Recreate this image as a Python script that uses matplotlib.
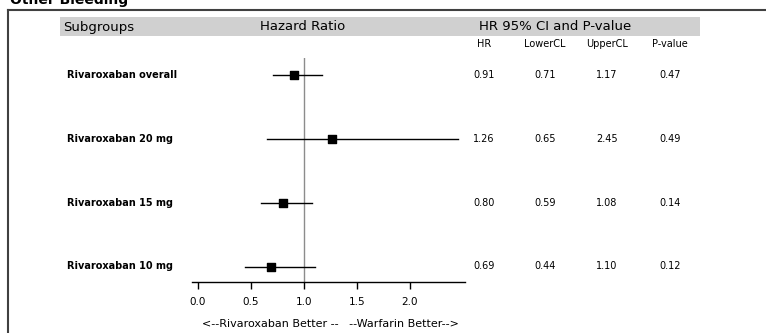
import matplotlib.pyplot as plt
from matplotlib.lines import Line2D
from matplotlib.patches import Rectangle

# subgroup results for other bleeding
subgroups = ['Rivaroxaban overall', 'Rivaroxaban 20 mg', 'Rivaroxaban 15 mg', 'Rivaroxaban 10 mg']
hr = [0.91, 1.26, 0.80, 0.69]
lower_cl = [0.71, 0.65, 0.59, 0.44]
upper_cl = [1.17, 2.45, 1.08, 1.10]
p_values = [0.47, 0.49, 0.14, 0.12]
x_ticks = [0.0, 0.5, 1.0, 1.5, 2.0]

W, H = 766, 333
fig = plt.figure(figsize=(W / 100, H / 100), dpi=100)
plt.rcParams['font.family'] = ['DejaVu Sans']


def fx(px):
    return px / W


def fy(py):
    return 1 - py / H


# forest plot axes, placed in pixel units
x0, x1 = -0.06, 2.52
top_px, bot_px = 58, 282
left_px = 198 + x0 * 106
right_px = 198 + x1 * 106
ax = fig.add_axes([fx(left_px), fy(bot_px), (right_px - left_px) / W, (bot_px - top_px) / H])
ax.set_xlim(x0, x1)
rows = list(range(len(subgroups)))
ax.set_ylim((bot_px - 75) / 64, -(75 - top_px) / 64)

ax.axvline(1.0, color='#8c8c8c', lw=1.0, zorder=1)
for i in rows:
    ax.plot([lower_cl[i], upper_cl[i]], [i, i], color='black', lw=1.0, zorder=2)
ax.scatter(hr, rows, marker='s', s=30, color='black', zorder=3)

for s in ['top', 'right', 'left']:
    ax.spines[s].set_visible(False)
ax.spines['bottom'].set_linewidth(1.0)
ax.set_yticks([])
ax.set_xticks(x_ticks)
ax.set_xticklabels([f'{t:.1f}' for t in x_ticks], fontsize=7.5)
ax.tick_params(axis='x', direction='out', length=5, width=1.0, pad=6)
ax.patch.set_alpha(0)

# frame around the panel
fig.add_artist(Line2D([fx(8), fx(8)], [fy(10), 0], color='#404040', lw=1.5))
fig.add_artist(Line2D([fx(8), 1], [fy(10), fy(10)], color='#404040', lw=1.5))

# header band
fig.add_artist(Rectangle((fx(60), fy(36)), fx(640), (36 - 17) / H, color='#d0d0d0', lw=0, zorder=0))
fig.text(fx(63), fy(27), 'Subgroups', fontsize=9.5, va='center', ha='left')
fig.text(fx(303), fy(27), 'Hazard Ratio', fontsize=9.5, va='center', ha='center')
fig.text(fx(555), fy(27), 'HR 95% CI and P-value', fontsize=9.5, va='center', ha='center')

col_x = [484, 545, 607, 670]
col_names = ['HR', 'LowerCL', 'UpperCL', 'P-value']
for cx, name in zip(col_x, col_names):
    fig.text(fx(cx), fy(44), name, fontsize=7, va='center', ha='center')

row_y = [75, 139, 203, 266]
for i in rows:
    fig.text(fx(67), fy(row_y[i]), subgroups[i], fontsize=7, fontweight='bold', va='center', ha='left')
    vals = [hr[i], lower_cl[i], upper_cl[i], p_values[i]]
    for cx, v in zip(col_x, vals):
        fig.text(fx(cx), fy(row_y[i]), f'{v:.2f}', fontsize=7, va='center', ha='center')

fig.text(fx(330), fy(324), '<--Rivaroxaban Better --   --Warfarin Better-->', fontsize=8,
         va='center', ha='center')

# title, partly above the top edge
fig.text(fx(10), fy(4), 'Other Bleeding', fontsize=10, fontweight='bold', va='baseline', ha='left')

fig.savefig('out.png', dpi=100)
